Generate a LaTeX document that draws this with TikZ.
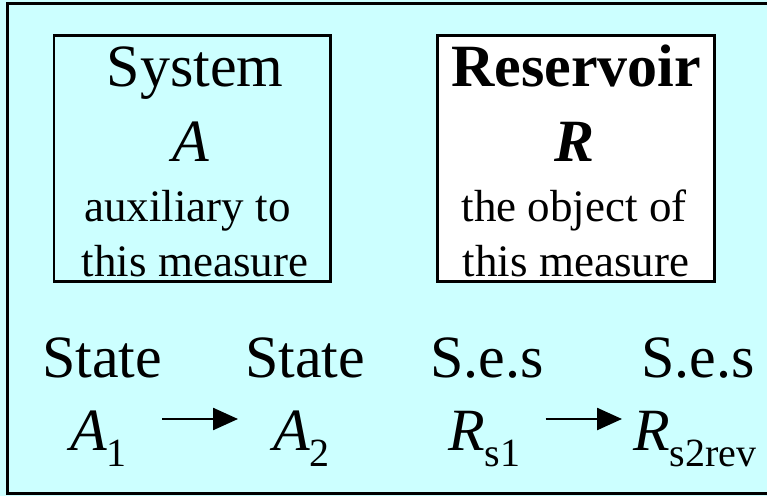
\documentclass[tikz,border=0pt]{standalone}
\usepackage{fontspec}
\newfontfamily\tnr{Liberation Serif}
\usetikzlibrary{arrows.meta}
\definecolor{bgcyan}{RGB}{204,255,255}
\newcommand\bigtxt{\tnr\fontsize{60bp}{72bp}\selectfont}
\newcommand\midtxt{\tnr\fontsize{45bp}{54bp}\selectfont}
\newcommand\lowsub[1]{\raisebox{-16bp}{\tnr\fontsize{40bp}{48bp}\selectfont\upshape #1}}
\begin{document}
\begin{tikzpicture}[x=1bp,y=-1bp,
  big/.style={inner sep=0pt, anchor=base},
  sym/.style={inner sep=0pt, anchor=base west},
  boxline/.style={line width=2.8bp, draw=black},
  arr/.style={line width=2.5bp, -{Triangle[length=25bp,width=22bp]}}]
\useasboundingbox (0,0) rectangle (767,496);
\clip (0,0) rectangle (767,496);
\fill[bgcyan] (0,0) rectangle (767,496);
\draw[line width=3bp] (7.5,3.3) rectangle (790,493);
% boxes
\draw[boxline, fill=bgcyan] (54,35.5) rectangle (330.5,281.5);
\draw[boxline, fill=white] (437.5,35.5) rectangle (714.5,281.5);
% left box text
\node[big] (systitle) at (195,87) {\bigtxt System};
\node[big] (sysA) at (191,162) {\bigtxt\itshape A};
\node[big] (sysl1) at (187.5,222) {\midtxt auxiliary to};
\node[big] (sysl2) at (195,277) {\midtxt this measure};
% right box text
\node[big] (restitle) at (576,87) {\bigtxt\bfseries Reservoir};
\node[big] (resR) at (575,162) {\bigtxt\bfseries\itshape R};
\node[big] (resl1) at (574,222) {\midtxt the object of};
\node[big] (resl2) at (576,277) {\midtxt this measure};
% bottom row
\node[big] (st1) at (102,377) {\bigtxt State};
\node[big] (st2) at (305,377) {\bigtxt State};
\node[big] (ses1) at (487,377) {\bigtxt S.e.s};
\node[big] (ses2) at (698,377) {\bigtxt S.e.s};
\node[sym] (a1) at (70,450) {\bigtxt\itshape A\lowsub{1}};
\node[sym] (a2) at (273,450) {\bigtxt\itshape A\lowsub{2}};
\node[sym] (r1) at (448,450) {\bigtxt\itshape R\lowsub{s1}};
\node[sym] (r2) at (633,450) {\bigtxt\itshape R\lowsub{s2rev}};
\draw[arr, shorten <=35bp, shorten >=35bp] ([yshift=31bp]a1.base east) -- ([yshift=31bp]a2.base west);
\draw[arr, shorten <=25bp, shorten >=11bp] ([yshift=31bp]r1.base east) -- ([yshift=31bp]r2.base west);
\end{tikzpicture}
\end{document}
